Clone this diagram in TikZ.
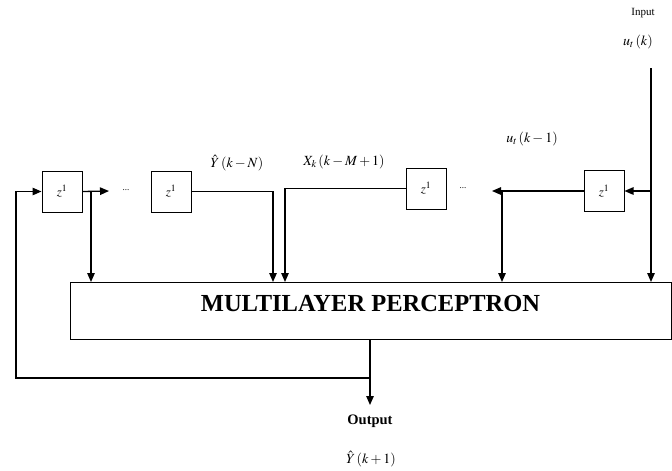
\documentclass[tikz,border=0pt]{standalone}
\usepackage{mathptmx}
\usepackage[no-math]{fontspec}
\setmainfont{Liberation Serif}
\usetikzlibrary{arrows.meta,calc}

\begin{document}
\begin{tikzpicture}[x=1pt,y=-1pt,line width=1.3pt,
  arr/.style={-{Triangle[length=9pt,width=7.5pt]}},
  delay/.style={draw,line width=1pt,minimum width=40pt,minimum height=41pt,inner sep=0pt,font=\fontsize{13}{15}\selectfont},
  lbl/.style={inner sep=0pt,font=\fontsize{14}{16}\selectfont},
  dotsnode/.style={inner sep=0pt,font=\fontsize{9}{10}\selectfont}]
  \useasboundingbox (0,0) rectangle (672,471);
  % 延迟单元
  \node[delay] (zA) at (62,191.5) {$z^{1}$};
  \node[delay] (zB) at (171,191.5) {$z^{1}$};
  \node[delay] (zC) at (426,188.5) {$z^{1}$};
  \node[delay] (zD) at (604,191) {$z^{1}$};
  % 多层感知器
  \node[draw,line width=1pt,minimum width=601pt,minimum height=57pt,inner sep=0pt,
        text height=16pt,text depth=15pt,font=\fontsize{24.5}{28}\selectfont\bfseries]
        (mlp) at (370.5,310.5) {MULTILAYER PERCEPTRON};
  % 输入点
  \coordinate (inA) at (91,282);
  \coordinate (inN) at (273,282);
  \coordinate (inM) at (285,282);
  \coordinate (inU) at (502,282);
  \coordinate (inI) at (651,282);
  \coordinate (intop) at (651,68);
  \coordinate (tipA) at (109,191);
  \coordinate (tipU) at (492,191);
  \coordinate (fb) at (370,378);
  \coordinate (fbl) at (16,191.5);
  \coordinate (outtip) at (370,405);
  % 省略号
  \node[dotsnode] (dA) at (126,190) {...};
  \node[dotsnode] (dB) at (463,188) {...};
  % 连线
  \draw[arr] (fb) -| (fbl) -- (zA.west);
  \draw[arr] (zA.east) -- (tipA);
  \draw[arr] (zA.east -| inA) -- (inA);
  \draw[arr] (zB.east) -| (inN);
  \draw[arr] (zC.west) -| (inM);
  \draw[arr] (zD.west) -- (zD.west -| tipU);
  \draw[arr] (zD.west -| inU) -- (inU);
  \draw[arr] (intop) -- (inI);
  \draw[arr] (intop |- zD.east) -- (zD.east);
  \draw[arr] (mlp.south -| outtip) -- (outtip);
  % 标注
  \node[inner sep=0pt,font=\fontsize{11}{13}\selectfont] (inp) at (643,13) {Input};
  \node[lbl] (uk) at (638,42) {$u_t\left(k\right)$};
  \node[lbl] (uk1) at (532,139) {$u_t\left(k-1\right)$};
  \node[lbl] (ykn) at (237,163) {$\hat{Y}\left(k-N\right)$};
  \node[lbl] (xkm) at (344,162) {$X_k\left(k-M+1\right)$};
  \node[inner sep=0pt,font=\fontsize{14.5}{16}\selectfont\bfseries] (outp) at (370,421) {Output};
  \node[lbl] (yk1) at (371,459) {$\hat{Y}\left(k+1\right)$};
\end{tikzpicture}
\end{document}
